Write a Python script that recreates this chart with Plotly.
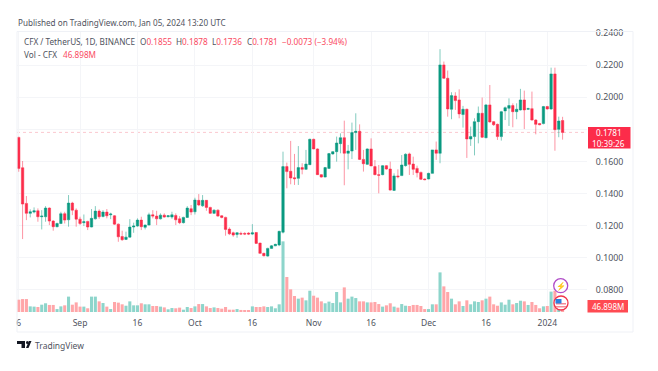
import pandas as pd
import plotly.graph_objects as go

dates = pd.date_range("2023-08-16", "2024-01-05", freq="D")

opens = [.1750,.1561,.1339,.1277,.1285,.1293,.1256,.1256,.1310,.1229,.1194,.1214,.1275,.1237,.1341,.1297,
 .1241,.1219,.1227,.1192,.1243,.1291,.1258,.1285,.1268,.1262,.1210,.1133,.1115,.1129,.1192,.1198,.1235,.1190,.1204,.1268,.1260,.1243,.1266,.1256,.1254,.1264,.1243,.1219,.1252,.1306,
 .1287,.1358,.1324,.1358,.1314,.1277,.1297,.1262,.1252,.1179,.1156,.1146,.1152,.1152,.1154,.1148,.1158,.1092,.1028,.1011,.1059,.1075,.1080,.1160,.1568,.1539,.1499,.1495,.1562,.1551,.1580,
 .1738,.1678,.1518,.1503,.1557,.1647,.1661,.1711,.1748,.1651,.1665,.1780,.1788,.1613,.1582,.1678,.1568,.1518,.1518,.1574,.1553,.1420,.1510,.1512,.1574,.1647,.1584,.1557,.1532,.1491,
 .1491,.1526,.1672,.1651,.2201,.2118,.1925,.2008,.1983,.1892,.1925,.1740,.1755,.1848,.1900,.1748,.1952,.1848,.1831,.1755,.1915,.1931,.1948,.1910,.1921,.1983,.1925,.1929,.1858,.1836,.1836,
 .1942,.1927,.2145,.1800,.1855]
highs = [.1754,.1603,.1385,.1302,.1314,.1308,.1297,.1322,.1314,.1235,.1219,.1287,.1287,.1391,.1349,.1308,
 .1256,.1270,.1231,.1304,.1322,.1302,.1297,.1304,.1281,.1266,.1214,.1169,.1163,.1241,.1219,.1246,.1256,.1208,.1281,.1297,.1293,.1277,.1277,.1266,.1287,.1277,.1260,.1256,.1322,.1329,
 .1374,.1397,.1391,.1360,.1318,.1302,.1302,.1266,.1256,.1190,.1163,.1160,.1163,.1160,.1160,.1210,.1160,.1094,.1032,.1063,.1080,.1088,.1169,.1661,.1593,.1728,.1647,.1696,.1589,.1672,.1742,
 .1742,.1682,.1522,.1566,.1653,.1665,.1755,.1775,.1854,.1703,.1842,.1900,.1831,.1672,.1682,.1744,.1609,.1578,.1578,.1578,.1599,.1526,.1551,.1640,.1651,.1655,.1630,.1574,.1537,.1495,
 .1530,.1672,.1724,.2299,.2222,.2166,.2031,.2031,.2049,.1946,.1929,.1817,.1869,.1942,.1998,.1958,.2076,.1852,.1836,.1915,.1942,.1993,.1962,.1962,.2052,.2041,.1935,.2035,.1863,.1840,.1946,
 .1946,.2184,.2184,.1879,.1878]
lows = [.1536,.1117,.1235,.1252,.1277,.1225,.1177,.1225,.1204,.1169,.1190,.1210,.1214,.1194,.1266,.1194,
 .1204,.1198,.1173,.1190,.1239,.1243,.1252,.1246,.1241,.1206,.1100,.1106,.1111,.1127,.1156,.1194,.1173,.1177,.1202,.1246,.1204,.1239,.1250,.1252,.1243,.1204,.1210,.1214,.1248,.1266,
 .1270,.1322,.1318,.1293,.1273,.1273,.1256,.1246,.1138,.1142,.1131,.1125,.1142,.1142,.1142,.1142,.1088,.1026,.1009,.1007,.1057,.1073,.1073,.1152,.1433,.1458,.1454,.1454,.1520,.1547,.1578,
 .1676,.1516,.1499,.1501,.1555,.1642,.1599,.1651,.1452,.1551,.1615,.1672,.1609,.1537,.1578,.1572,.1514,.1402,.1514,.1549,.1418,.1418,.1495,.1510,.1568,.1516,.1516,.1501,.1485,.1483,
 .1489,.1524,.1610,.1589,.2114,.1879,.1863,.1921,.1869,.1811,.1622,.1697,.1638,.1713,.1746,.1744,.1842,.1821,.1734,.1730,.1858,.1821,.1813,.1863,.1917,.1802,.1921,.1854,.1769,.1825,.1831,
 .1923,.1921,.1667,.1751,.1736]
closes = [.1557,.1335,.1277,.1287,.1293,.1256,.1260,.1310,.1229,.1194,.1214,.1275,.1235,.1341,.1297,.1241,
 .1214,.1225,.1192,.1246,.1291,.1256,.1285,.1262,.1273,.1210,.1131,.1113,.1129,.1192,.1198,.1235,.1194,.1204,.1268,.1260,.1243,.1266,.1254,.1262,.1268,.1237,.1219,.1252,.1310,.1285,
 .1360,.1329,.1358,.1314,.1277,.1297,.1260,.1252,.1177,.1150,.1142,.1156,.1148,.1148,.1148,.1156,.1090,.1028,.1013,.1059,.1075,.1084,.1165,.1568,.1537,.1497,.1493,.1562,.1551,.1584,.1738,
 .1678,.1518,.1503,.1562,.1649,.1661,.1715,.1748,.1651,.1665,.1780,.1788,.1613,.1586,.1678,.1572,.1518,.1514,.1574,.1553,.1422,.1510,.1505,.1578,.1645,.1582,.1551,.1530,.1489,.1487,
 .1526,.1672,.1651,.2201,.2118,.1927,.2010,.1979,.1896,.1925,.1740,.1755,.1848,.1900,.1751,.1952,.1846,.1829,.1755,.1910,.1935,.1948,.1910,.1925,.1983,.1921,.1929,.1858,.1831,.1829,.1942,
 .1927,.2145,.1798,.1852,.1781]
volumes_m = [96,101,101,44,42,39,57,68,55,55,23,44,52,120,57,75,42,42,29,120,120,83,70,42,23,78,73,60,49,83,52,52,68,60,60,47,47,42,36,21,31,29,34,18,39,31,44,62,62,44,31,36,31,26,39,18,18,23,16,8,13,44,39,39,44,39,44,29,60,
 551,273,177,125,104,112,91,166,127,112,83,68,81,70,156,75,192,104,120,109,83,83,75,75,78,62,42,52,68,42,34,62,49,47,55,55,47,23,23,60,60,
 309,200,156,104,60,83,47,91,60,83,78,91,104,120,60,49,75,57,96,60,70,88,83,55,78,55,29,44,47,159,166,31,46.898]

tick_dates = ["2023-08-16","2023-09-01","2023-09-16","2023-10-01","2023-10-16","2023-11-01","2023-11-16","2023-12-01","2023-12-16","2024-01-01"]
tick_labels = ["6","Sep","16","Oct","16","Nov","16","Dec","16","2024"]
price_ticks = [0.08,0.10,0.12,0.14,0.16,0.18,0.20,0.22,0.24]
price_tick_labels = ["0.0800","0.1000","0.1200","0.1400","0.1600","","0.2000","0.2200","0.2400"]

GREEN, RED = "#0A9A81", "#FC2C4A"
VGREEN, VRED = "#8DD5CB", "#FFA6A9"
W, H = 658, 371
L, R, T, B = 17, 587, 32, 312
last_close = closes[-1]

def px(x): return (x - L) / (R - L)
def py(y): return (B - y) / (B - T)

fig = go.Figure()
fig.add_trace(go.Candlestick(
    x=dates, open=opens, high=highs, low=lows, close=closes, whiskerwidth=0,
    increasing=dict(line=dict(color="rgba(10,154,129,0.5)", width=1), fillcolor=GREEN),
    decreasing=dict(line=dict(color="rgba(252,44,74,0.5)", width=1), fillcolor=RED),
    showlegend=False, yaxis="y"))
fig.add_trace(go.Bar(
    x=dates, y=volumes_m, width=0.8 * 86400000,
    marker=dict(color=[VGREEN if c >= o else VRED for o, c in zip(opens, closes)], line=dict(width=0)),
    showlegend=False, yaxis="y2"))

shapes = []
def rect(x0, y0, x1, y1, fill=None, line=None, lw=1, kind="rect", layer="above"):
    shapes.append(dict(type=kind, xref="paper", yref="paper", x0=px(x0), x1=px(x1), y0=py(y0), y1=py(y1),
                       fillcolor=fill, line=dict(color=line or "rgba(0,0,0,0)", width=lw if line else 0), layer=layer))

# chart frame
rect(17, 31.5, 633, 332, None, "#EFF1F6", 1)
# last price dotted line
shapes.append(dict(type="line", xref="paper", yref="y", x0=0, x1=1, y0=last_close, y1=last_close,
                   line=dict(color="#FBC9CF", width=1, dash="dot"), layer="below"))
# price and volume tags
rect(588, 127, 630.5, 148.5, "#FC2C4A")
rect(587.5, 300, 628, 312.5, "#FF4A52")
# icons
rect(553.7, 278.7, 567.7, 292.7, "#FFFFFF", "#B04CC8", 1.3, "circle")
rect(554, 296, 568, 310, "#FFFFFF", "#F0344A", 1.3, "circle")
rect(556, 303, 566, 304.5, "#F58A98")
rect(556, 306, 566, 307.5, "#F58A98")
rect(555.5, 299, 561.5, 303.5, "#2A7FE0")
# TradingView logo
rect(17, 341, 25, 344, "#131722")
rect(21.5, 344, 25, 348, "#131722")
rect(26, 341, 28.5, 344, "#131722", kind="circle")
shapes.append(dict(type="path", xref="paper", yref="paper", fillcolor="#131722", line=dict(width=0),
    path=f"M {px(28.5)},{py(348)} L {px(31.5)},{py(341)} L {px(28.8)},{py(341)} L {px(26)},{py(348)} Z"))

FONT = "Noto Sans"
def text(x, y, s, size=9, color="#50535E", anchor="left", **kw):
    return dict(xref="paper", yref="paper", x=px(x), y=py(y), text=s, showarrow=False, xanchor=anchor, yanchor="middle",
                font=dict(family=FONT, size=size, color=color), borderpad=0, **kw)

RT = "#FA4A62"
def v(s): return f'<span style="color:{RT}">{s}</span>'
annotations = [
    text(17, 23, "Published on TradingView.com, Jan 05, 2024 13:20 UTC", 8.15),
    text(23, 41.5, "CFX / TetherUS, 1D, BINANCE", 8.2),
    text(139, 41.5, "O" + v("0.1855"), 8.2),
    text(175, 41.5, "H" + v("0.1878"), 8.2),
    text(211, 41.5, "L" + v("0.1736"), 8.2),
    text(246, 41.5, "C" + v("0.1781"), 8.2),
    text(281, 41.5, v("−0.0073 (−3.94%)"), 8.2),
    text(23, 54, "Vol - CFX", 8.2),
    text(62, 54, v("46.898M"), 8.2),
    text(609, 132.3, "0.1781", 8.2, "#FFFFFF", "center"),
    text(609, 143.2, "10:39:26", 8.2, "#FFFFFF", "center"),
    text(607.5, 306.5, "46.898M", 8, "#FFFFFF", "center"),
    text(34, 345, "TradingView", 8.5, "#50535E"),
    text(560.7, 285.7, "⚡", 8, "#B04CC8", "center"),
]

fig.update_layout(
    width=W, height=H, margin=dict(l=L, r=W - R, t=T, b=H - B, pad=0), autosize=False,
    paper_bgcolor="#FFFFFF", plot_bgcolor="#FFFFFF", boxgap=0.1,
    font=dict(family=FONT, size=8.5, color="#50535E"),
    xaxis=dict(type="date", range=["2023-08-15 13:00", "2024-01-11 09:00"], rangeslider=dict(visible=False),
               tickmode="array", tickvals=tick_dates, ticktext=tick_labels, tickangle=0,
               showgrid=True, gridcolor="#F4F5F8", gridwidth=1, zeroline=False, showline=False,
               ticks="outside", ticklen=3, tickcolor="rgba(0,0,0,0)", tickfont=dict(size=8.5)),
    yaxis=dict(side="right", range=[0.0663, 0.2406], tickmode="array", tickvals=price_ticks, ticktext=price_tick_labels,
               showgrid=True, gridcolor="#F4F5F8", gridwidth=1, zeroline=False, showline=False,
               ticks="outside", ticklen=6, tickcolor="rgba(0,0,0,0)", tickfont=dict(size=8.8)),
    yaxis2=dict(overlaying="y", range=[0, 2184], visible=False),
    shapes=shapes, annotations=annotations, hovermode=False,
)
fig.write_html("out.html", config=dict(displayModeBar=False),
               post_script="document.body.style.margin='0';")
